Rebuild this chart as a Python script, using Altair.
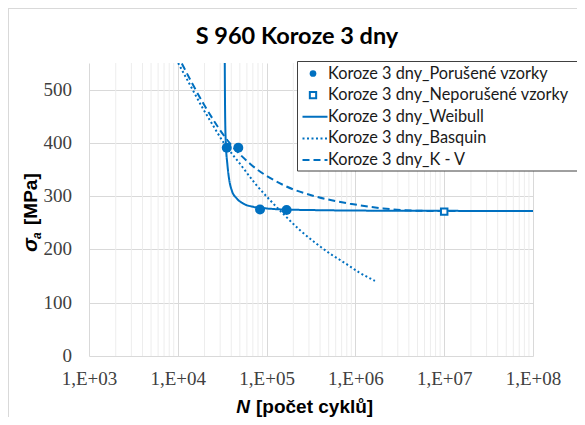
import altair as alt
import pandas as pd

BLUE = "#0070C0"

S_POR = "Koroze 3 dny_Porušené vzorky"
S_NEP = "Koroze 3 dny_Neporušené vzorky"
S_WEI = "Koroze 3 dny_Weibull"
S_BAS = "Koroze 3 dny_Basquin"
S_KV = "Koroze 3 dny_K - V"
series = [S_POR, S_NEP, S_WEI, S_BAS, S_KV]

# measured points
por_N = [3.56e4, 4.80e4, 8.43e4, 1.68e5]
por_s = [391, 391, 275, 274]
nep_N = [1.0e7]
nep_s = [271]

# fitted curves
wei_N = [3.38e4, 3.40e4, 3.42e4, 3.49e4, 3.61e4, 3.80e4, 4.05e4, 4.60e4, 5.47e4,
         7.08e4, 1.00e5, 1.54e5, 3.08e5, 1.0e6, 1.0e7, 1.0e8]
wei_s = [550, 480, 440, 393, 361, 330, 311, 296, 286, 280, 277, 275, 274, 273, 272.5, 272]
bas_N = [1.01e4, 1.5e4, 1.94e4, 2.31e4, 3.3e4, 5.0e4, 7.5e4, 1.1e5, 1.6e5, 2.38e5,
         3.5e5, 5.2e5, 7.7e5, 1.1e6, 1.66e6]
bas_s = [550, 497, 463, 442, 400, 361, 323, 292, 264, 236, 213, 192, 174, 157, 141]
kv_N = [1.11e4, 1.94e4, 3.87e4, 6.5e4, 1.54e5, 3.66e5, 8.7e5, 2.06e6, 4.47e6, 1.0e7, 1.0e8]
kv_s = [549, 474, 399, 361, 321, 299, 286, 277, 273, 272, 272]

x_ticks = [1e3, 1e4, 1e5, 1e6, 1e7, 1e8]
y_ticks = [0, 100, 200, 300, 400, 500]
minor_ticks = [m * 10 ** e for e in range(3, 8) for m in range(2, 10)]

por_df = pd.DataFrame({"N": por_N, "sigma": por_s, "series": S_POR})
nep_df = pd.DataFrame({"N": nep_N, "sigma": nep_s, "series": S_NEP})
lines_df = pd.concat([
    pd.DataFrame({"N": wei_N, "sigma": wei_s, "series": S_WEI}),
    pd.DataFrame({"N": bas_N, "sigma": bas_s, "series": S_BAS}),
    pd.DataFrame({"N": kv_N, "sigma": kv_s, "series": S_KV}),
], ignore_index=True)
minor_df = pd.DataFrame({"N": minor_ticks})
ytick_df = pd.DataFrame({"sigma": y_ticks, "label": [str(v) for v in y_ticks]})
leg_df = pd.DataFrame({"series": series, "row": list(range(len(series)))})
one = pd.DataFrame({"t": [0]})

x_scale = alt.Scale(type="log", domain=[1e3, 1e8], nice=False)
y_scale = alt.Scale(domain=[0, 550], nice=False)
dash_scale = alt.Scale(domain=[S_WEI, S_BAS, S_KV], range=[[1, 0], [2, 2.5], [7, 4]])

x_enc = alt.X("N:Q", scale=x_scale, axis=alt.Axis(
    values=x_ticks, labelExpr="'1,E+0' + round(log(datum.value)/LN10)",
    grid=True, gridColor="#D9D9D9", domain=False, ticks=False,
    labelFont="Liberation Serif", labelFontSize=19, labelColor="#404040",
    labelPadding=13, labelFlush=False, title=None))
y_axis_enc = alt.Y("sigma:Q", scale=y_scale, axis=alt.Axis(
    values=y_ticks, grid=True, gridColor="#D9D9D9", domain=False, ticks=False,
    labels=False, title=None, orient="left"))
y_enc = alt.Y("sigma:Q", scale=y_scale, axis=None)

minor = alt.Chart(minor_df).mark_rule(color="#EDEDED", strokeWidth=1).encode(x=x_enc)

border_top = alt.Chart(one).mark_rule(color="#D9D9D9").encode(
    x=alt.value(-81), x2=alt.value(500), y=alt.value(-54.5))
border_left = alt.Chart(one).mark_rule(color="#D9D9D9").encode(
    x=alt.value(-80.5), y=alt.value(-55), y2=alt.value(360))

lines = alt.Chart(lines_df).mark_line(strokeWidth=2, clip=True, interpolate="monotone",
                                      color=BLUE).encode(
    x=x_enc, y=y_axis_enc,
    strokeDash=alt.StrokeDash("series:N", scale=dash_scale, legend=None),
)
circles = alt.Chart(por_df).mark_point(shape="circle", filled=True, size=100, opacity=1,
                                       color=BLUE).encode(x=x_enc, y=y_enc)
squares = alt.Chart(nep_df).mark_point(shape="square", filled=False, fill="white", size=42,
                                       strokeWidth=2, opacity=1, color=BLUE).encode(
    x=x_enc, y=y_enc)

# y tick labels placed through the value scale
ylabels = alt.Chart(ytick_df).mark_text(font="Liberation Serif", fontSize=19, align="right",
                                        baseline="middle", color="#404040").encode(
    x=alt.value(-17), y=y_enc, text="label:N")

title = alt.Chart(one).mark_text(text="S 960 Koroze 3 dny", font="Lato", fontSize=23.5,
                                 fontWeight="bold", align="center", baseline="alphabetic",
                                 color="#000000").encode(x=alt.value(208), y=alt.value(-19))

AX_FONT = "Liberation Sans"
xt_N = alt.Chart(one).mark_text(text="N", font=AX_FONT, fontSize=19, fontWeight="bold",
                                fontStyle="italic", align="right", baseline="alphabetic",
                                color="#000000").encode(x=alt.value(161), y=alt.value(350))
xt_rest = alt.Chart(one).mark_text(text="[počet cyklů]", font=AX_FONT, fontSize=19,
                                   fontWeight="bold", align="left", baseline="alphabetic",
                                   color="#000000").encode(x=alt.value(167), y=alt.value(350))

yt_sigma = alt.Chart(one).mark_text(text="σ", font=AX_FONT, fontSize=21, fontWeight="bold",
                                    fontStyle="italic", align="left", baseline="alphabetic",
                                    angle=270, color="#000000").encode(
    x=alt.value(-52.5), y=alt.value(189))
yt_a = alt.Chart(one).mark_text(text="a", font=AX_FONT, fontSize=12, fontWeight="bold",
                                fontStyle="italic", align="left", baseline="alphabetic",
                                angle=270, color="#000000").encode(
    x=alt.value(-48.5), y=alt.value(176))
yt_rest = alt.Chart(one).mark_text(text="[MPa]", font=AX_FONT, fontSize=19, fontWeight="bold",
                                   align="left", baseline="alphabetic", angle=270,
                                   color="#000000").encode(x=alt.value(-52.5), y=alt.value(162))

# legend drawn from the series list through its own row scale
row_scale = alt.Scale(domain=[0, 4], range=[10.5, 97])
row_y = alt.Y("row:Q", scale=row_scale, axis=None)

leg_box = alt.Chart(one).mark_rect(fill="white", stroke="#404040", strokeWidth=1).encode(
    x=alt.value(208.5), x2=alt.value(520), y=alt.value(-1.5), y2=alt.value(108))
leg_text = alt.Chart(leg_df).mark_text(font="Lato", fontSize=16.3, align="left",
                                       baseline="middle", color="#1a1a1a").encode(
    x=alt.value(239), y=row_y, text="series:N")
leg_circle = alt.Chart(leg_df).transform_filter(f"datum.series === '{S_POR}'").mark_point(
    shape="circle", filled=True, size=45, opacity=1, color=BLUE).encode(
    x=alt.value(224), y=row_y)
leg_square = alt.Chart(leg_df).transform_filter(f"datum.series === '{S_NEP}'").mark_point(
    shape="square", filled=False, fill="white", size=40, strokeWidth=2, opacity=1,
    color=BLUE).encode(x=alt.value(224), y=row_y)
leg_lines = alt.Chart(leg_df).transform_filter(
    f"datum.series !== '{S_POR}' && datum.series !== '{S_NEP}'").mark_rule(
    strokeWidth=2, color=BLUE).encode(
    x=alt.value(213.5), x2=alt.value(238.5), y=row_y,
    strokeDash=alt.StrokeDash("series:N", scale=dash_scale, legend=None))

chart = alt.layer(
    minor, border_top, border_left, lines, circles, squares, ylabels,
    title, xt_N, xt_rest, yt_sigma, yt_a, yt_rest,
    leg_box, leg_lines, leg_circle, leg_square, leg_text,
).resolve_scale(y="independent").properties(
    width=444, height=293, autosize=alt.AutoSizeParams(type="none"),
    padding={"left": 81, "top": 55, "right": 44, "bottom": 61},
    background="white",
).configure_view(stroke=None).configure_axisY(
    labels=False, ticks=False, domain=False, gridColor="#D9D9D9",
).configure_axisX(
    labelFont="Liberation Serif", labelFontSize=19, labelColor="#404040",
    labelPadding=13, ticks=False, domain=False, gridColor="#D9D9D9",
)

chart.save("out.html", embed_options={"renderer": "svg", "actions": False})
